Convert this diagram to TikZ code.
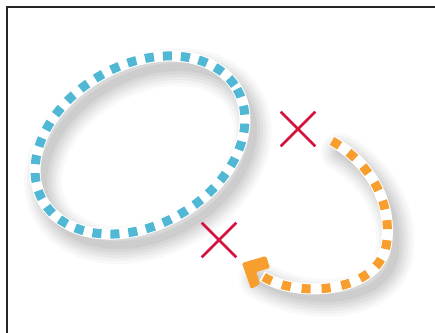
\documentclass[tikz,border=0pt]{standalone}
\usetikzlibrary{shapes.misc}
\definecolor{loopblue}{RGB}{80,184,212}
\definecolor{looporange}{RGB}{247,158,46}
\definecolor{crossred}{RGB}{212,18,60}
\tikzset{
  halo/.style={white, line width=11pt},
  blueloop/.style={loopblue, line width=9pt, dash pattern=on 9pt off 9pt},
  orangeloop/.style={looporange, line width=9pt, dash pattern=on 9pt off 11pt},
  stopmark/.style={cross out, draw=crossred, line width=2.6pt, minimum size=32pt, inner sep=0pt}
}
\begin{document}
\begin{tikzpicture}[x=1pt, y=-1pt]
			
			\useasboundingbox (0,0) rectangle (435,332);
			\fill[white] (0,0) rectangle (435,332);
			\draw[black!85, line width=2.5pt] (7,335) -- (7,7) -- (438,7);
			
			\foreach \w/\o in {38/0.03,32/0.04,26/0.05,20/0.055,14/0.06,8/0.07}{
				\draw[black!70, line width=\w pt, opacity=\o, shift={(8,11)}, rotate around={30:(140,145)}]
				(140,145) ellipse [x radius=112, y radius=80];
				\draw[black!70, line width=\w pt, opacity=\o, shift={(8,11)}, line cap=round]
				(332,141) .. controls (365,160) and (391,195) .. (387,240)
				.. controls (383,292) and (300,300) .. (250,268);
			}
			
			\draw[halo, rotate around={30:(140,145)}] (140,145) ellipse [x radius=112, y radius=80];
			\draw[blueloop, rotate around={30:(140,145)}] (140,145) ellipse [x radius=112, y radius=80];
			
			\draw[halo] (332,141) .. controls (365,160) and (391,195) .. (387,240)
			.. controls (383,292) and (300,300) .. (262,276);
			\draw[orangeloop] (332,141) .. controls (365,160) and (391,195) .. (387,240)
			.. controls (383,292) and (300,300) .. (262,276);
			\fill[looporange, rounded corners=1.5pt] (242,263) -- (266,256) -- (270,268) -- (256,272)
			-- (260,284) -- (251,289) -- cycle;
			
			\node[stopmark] (stopa) at (298,129) {};
			\node[stopmark] (stopb) at (219,240) {};
			
		\end{tikzpicture}
\end{document}
